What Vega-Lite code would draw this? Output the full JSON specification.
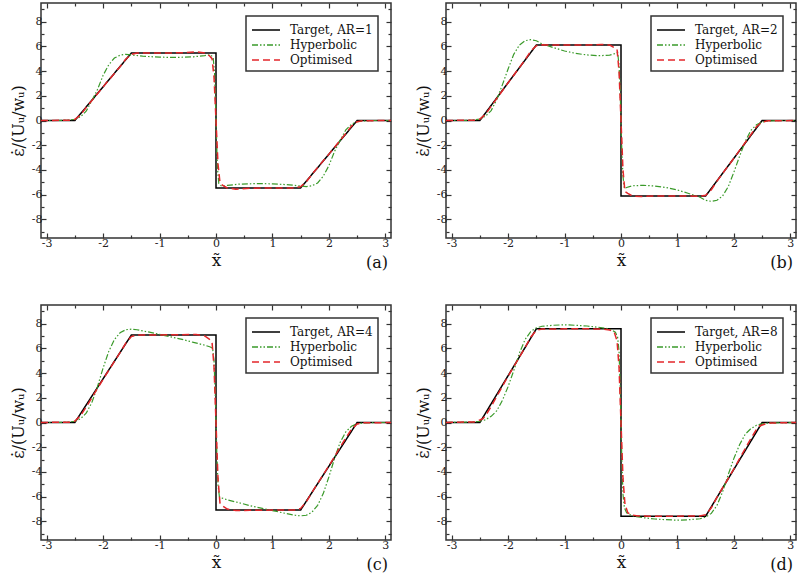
{
"$schema": "https://vega.github.io/schema/vega-lite/v6.json",
"padding": {"left": 9, "top": 1, "right": 0, "bottom": 0},
"columns": 2,
"spacing": {"row": 67, "column": 55},
"bounds": "flush",
"datasets": {
"a": [
{"s":"Target, AR=1","x":-3.1,"y":0},{"s":"Target, AR=1","x":-2.5,"y":0},{"s":"Target, AR=1","x":-1.5,"y":5.45},{"s":"Target, AR=1","x":0,"y":5.45},{"s":"Target, AR=1","x":0,"y":-5.45},{"s":"Target, AR=1","x":1.5,"y":-5.45},{"s":"Target, AR=1","x":2.5,"y":0},{"s":"Target, AR=1","x":3.1,"y":0},
{"s":"Hyperbolic","x":-3.1,"y":0},{"s":"Hyperbolic","x":-2.8,"y":0},{"s":"Hyperbolic","x":-2.6,"y":0.04},{"s":"Hyperbolic","x":-2.5,"y":0.1},{"s":"Hyperbolic","x":-2.4,"y":0.3},{"s":"Hyperbolic","x":-2.3,"y":0.75},{"s":"Hyperbolic","x":-2.2,"y":1.6},{"s":"Hyperbolic","x":-2.1,"y":2.5},{"s":"Hyperbolic","x":-2.0,"y":3.65},{"s":"Hyperbolic","x":-1.9,"y":4.5},{"s":"Hyperbolic","x":-1.8,"y":5.05},{"s":"Hyperbolic","x":-1.7,"y":5.28},{"s":"Hyperbolic","x":-1.6,"y":5.35},{"s":"Hyperbolic","x":-1.5,"y":5.3},{"s":"Hyperbolic","x":-1.3,"y":5.2},{"s":"Hyperbolic","x":-1.0,"y":5.12},{"s":"Hyperbolic","x":-0.7,"y":5.1},{"s":"Hyperbolic","x":-0.4,"y":5.15},{"s":"Hyperbolic","x":-0.2,"y":5.25},{"s":"Hyperbolic","x":-0.1,"y":5.32},{"s":"Hyperbolic","x":-0.05,"y":5.1},{"s":"Hyperbolic","x":-0.025,"y":3.8},{"s":"Hyperbolic","x":0,"y":0},
{"s":"Hyperbolic","x":0.025,"y":-3.8},{"s":"Hyperbolic","x":0.05,"y":-5.1},{"s":"Hyperbolic","x":0.1,"y":-5.32},{"s":"Hyperbolic","x":0.2,"y":-5.25},{"s":"Hyperbolic","x":0.4,"y":-5.15},{"s":"Hyperbolic","x":0.7,"y":-5.1},{"s":"Hyperbolic","x":1.0,"y":-5.12},{"s":"Hyperbolic","x":1.3,"y":-5.2},{"s":"Hyperbolic","x":1.5,"y":-5.3},{"s":"Hyperbolic","x":1.6,"y":-5.35},{"s":"Hyperbolic","x":1.7,"y":-5.28},{"s":"Hyperbolic","x":1.8,"y":-5.05},{"s":"Hyperbolic","x":1.9,"y":-4.5},{"s":"Hyperbolic","x":2.0,"y":-3.65},{"s":"Hyperbolic","x":2.1,"y":-2.5},{"s":"Hyperbolic","x":2.2,"y":-1.6},{"s":"Hyperbolic","x":2.3,"y":-0.75},{"s":"Hyperbolic","x":2.4,"y":-0.3},{"s":"Hyperbolic","x":2.5,"y":-0.1},{"s":"Hyperbolic","x":2.6,"y":-0.04},{"s":"Hyperbolic","x":2.8,"y":0},{"s":"Hyperbolic","x":3.1,"y":0},
{"s":"Optimised","x":-3.1,"y":0},{"s":"Optimised","x":-2.6,"y":0.02},{"s":"Optimised","x":-2.5,"y":0.1},{"s":"Optimised","x":-2.4,"y":0.45},{"s":"Optimised","x":-2.3,"y":1.05},{"s":"Optimised","x":-2.0,"y":2.72},{"s":"Optimised","x":-1.7,"y":4.35},{"s":"Optimised","x":-1.6,"y":4.95},{"s":"Optimised","x":-1.5,"y":5.35},{"s":"Optimised","x":-1.4,"y":5.45},{"s":"Optimised","x":-1.0,"y":5.45},{"s":"Optimised","x":-0.6,"y":5.48},{"s":"Optimised","x":-0.35,"y":5.55},{"s":"Optimised","x":-0.2,"y":5.45},{"s":"Optimised","x":-0.12,"y":5.25},{"s":"Optimised","x":-0.07,"y":5.0},{"s":"Optimised","x":-0.035,"y":3.5},{"s":"Optimised","x":0,"y":0},
{"s":"Optimised","x":0.035,"y":-3.5},{"s":"Optimised","x":0.07,"y":-5.0},{"s":"Optimised","x":0.12,"y":-5.25},{"s":"Optimised","x":0.2,"y":-5.45},{"s":"Optimised","x":0.35,"y":-5.55},{"s":"Optimised","x":0.6,"y":-5.48},{"s":"Optimised","x":1.0,"y":-5.45},{"s":"Optimised","x":1.4,"y":-5.45},{"s":"Optimised","x":1.5,"y":-5.35},{"s":"Optimised","x":1.6,"y":-4.95},{"s":"Optimised","x":1.7,"y":-4.35},{"s":"Optimised","x":2.0,"y":-2.72},{"s":"Optimised","x":2.3,"y":-1.05},{"s":"Optimised","x":2.4,"y":-0.45},{"s":"Optimised","x":2.5,"y":-0.1},{"s":"Optimised","x":2.6,"y":-0.02},{"s":"Optimised","x":3.1,"y":0}
],
"b": [
{"s":"Target, AR=2","x":-3.1,"y":0},{"s":"Target, AR=2","x":-2.5,"y":0},{"s":"Target, AR=2","x":-1.5,"y":6.1},{"s":"Target, AR=2","x":0,"y":6.1},{"s":"Target, AR=2","x":0,"y":-6.1},{"s":"Target, AR=2","x":1.5,"y":-6.1},{"s":"Target, AR=2","x":2.5,"y":0},{"s":"Target, AR=2","x":3.1,"y":0},
{"s":"Hyperbolic","x":-3.1,"y":0},{"s":"Hyperbolic","x":-2.8,"y":0},{"s":"Hyperbolic","x":-2.6,"y":0.05},{"s":"Hyperbolic","x":-2.5,"y":0.12},{"s":"Hyperbolic","x":-2.4,"y":0.35},{"s":"Hyperbolic","x":-2.3,"y":0.8},{"s":"Hyperbolic","x":-2.2,"y":1.7},{"s":"Hyperbolic","x":-2.1,"y":2.9},{"s":"Hyperbolic","x":-2.0,"y":4.17},{"s":"Hyperbolic","x":-1.9,"y":5.35},{"s":"Hyperbolic","x":-1.8,"y":6.1},{"s":"Hyperbolic","x":-1.7,"y":6.45},{"s":"Hyperbolic","x":-1.6,"y":6.54},{"s":"Hyperbolic","x":-1.5,"y":6.45},{"s":"Hyperbolic","x":-1.4,"y":6.2},{"s":"Hyperbolic","x":-1.2,"y":5.9},{"s":"Hyperbolic","x":-1.0,"y":5.62},{"s":"Hyperbolic","x":-0.8,"y":5.42},{"s":"Hyperbolic","x":-0.6,"y":5.3},{"s":"Hyperbolic","x":-0.4,"y":5.24},{"s":"Hyperbolic","x":-0.2,"y":5.28},{"s":"Hyperbolic","x":-0.1,"y":5.42},{"s":"Hyperbolic","x":-0.06,"y":5.5},{"s":"Hyperbolic","x":-0.035,"y":4.5},{"s":"Hyperbolic","x":-0.015,"y":2.5},{"s":"Hyperbolic","x":0,"y":0},
{"s":"Hyperbolic","x":0.015,"y":-2.5},{"s":"Hyperbolic","x":0.035,"y":-4.5},{"s":"Hyperbolic","x":0.06,"y":-5.5},{"s":"Hyperbolic","x":0.1,"y":-5.42},{"s":"Hyperbolic","x":0.2,"y":-5.28},{"s":"Hyperbolic","x":0.4,"y":-5.24},{"s":"Hyperbolic","x":0.6,"y":-5.3},{"s":"Hyperbolic","x":0.8,"y":-5.42},{"s":"Hyperbolic","x":1.0,"y":-5.62},{"s":"Hyperbolic","x":1.2,"y":-5.9},{"s":"Hyperbolic","x":1.4,"y":-6.2},{"s":"Hyperbolic","x":1.5,"y":-6.45},{"s":"Hyperbolic","x":1.6,"y":-6.54},{"s":"Hyperbolic","x":1.7,"y":-6.45},{"s":"Hyperbolic","x":1.8,"y":-6.1},{"s":"Hyperbolic","x":1.9,"y":-5.35},{"s":"Hyperbolic","x":2.0,"y":-4.17},{"s":"Hyperbolic","x":2.1,"y":-2.9},{"s":"Hyperbolic","x":2.2,"y":-1.7},{"s":"Hyperbolic","x":2.3,"y":-0.8},{"s":"Hyperbolic","x":2.4,"y":-0.35},{"s":"Hyperbolic","x":2.5,"y":-0.12},{"s":"Hyperbolic","x":2.6,"y":-0.05},{"s":"Hyperbolic","x":2.8,"y":0},{"s":"Hyperbolic","x":3.1,"y":0},
{"s":"Optimised","x":-3.1,"y":0},{"s":"Optimised","x":-2.6,"y":0.03},{"s":"Optimised","x":-2.5,"y":0.12},{"s":"Optimised","x":-2.4,"y":0.5},{"s":"Optimised","x":-2.3,"y":1.15},{"s":"Optimised","x":-2.0,"y":3.05},{"s":"Optimised","x":-1.7,"y":4.9},{"s":"Optimised","x":-1.6,"y":5.6},{"s":"Optimised","x":-1.5,"y":6.05},{"s":"Optimised","x":-1.4,"y":6.12},{"s":"Optimised","x":-1.0,"y":6.1},{"s":"Optimised","x":-0.6,"y":6.1},{"s":"Optimised","x":-0.35,"y":6.15},{"s":"Optimised","x":-0.2,"y":6.1},{"s":"Optimised","x":-0.12,"y":5.9},{"s":"Optimised","x":-0.07,"y":5.75},{"s":"Optimised","x":-0.035,"y":4.0},{"s":"Optimised","x":0,"y":0},
{"s":"Optimised","x":0.035,"y":-4.0},{"s":"Optimised","x":0.07,"y":-5.75},{"s":"Optimised","x":0.12,"y":-5.9},{"s":"Optimised","x":0.2,"y":-6.1},{"s":"Optimised","x":0.35,"y":-6.15},{"s":"Optimised","x":0.6,"y":-6.1},{"s":"Optimised","x":1.0,"y":-6.1},{"s":"Optimised","x":1.4,"y":-6.12},{"s":"Optimised","x":1.5,"y":-6.05},{"s":"Optimised","x":1.6,"y":-5.6},{"s":"Optimised","x":1.7,"y":-4.9},{"s":"Optimised","x":2.0,"y":-3.05},{"s":"Optimised","x":2.3,"y":-1.15},{"s":"Optimised","x":2.4,"y":-0.5},{"s":"Optimised","x":2.5,"y":-0.12},{"s":"Optimised","x":2.6,"y":-0.03},{"s":"Optimised","x":3.1,"y":0}
],
"c": [
{"s":"Target, AR=4","x":-3.1,"y":0},{"s":"Target, AR=4","x":-2.5,"y":0},{"s":"Target, AR=4","x":-1.5,"y":7.07},{"s":"Target, AR=4","x":0,"y":7.07},{"s":"Target, AR=4","x":0,"y":-7.07},{"s":"Target, AR=4","x":1.5,"y":-7.07},{"s":"Target, AR=4","x":2.5,"y":0},{"s":"Target, AR=4","x":3.1,"y":0},
{"s":"Hyperbolic","x":-3.1,"y":0},{"s":"Hyperbolic","x":-2.8,"y":0},{"s":"Hyperbolic","x":-2.6,"y":0.04},{"s":"Hyperbolic","x":-2.5,"y":0.1},{"s":"Hyperbolic","x":-2.4,"y":0.3},{"s":"Hyperbolic","x":-2.3,"y":0.75},{"s":"Hyperbolic","x":-2.2,"y":1.6},{"s":"Hyperbolic","x":-2.1,"y":2.9},{"s":"Hyperbolic","x":-2.0,"y":4.4},{"s":"Hyperbolic","x":-1.9,"y":5.75},{"s":"Hyperbolic","x":-1.8,"y":6.7},{"s":"Hyperbolic","x":-1.7,"y":7.25},{"s":"Hyperbolic","x":-1.6,"y":7.5},{"s":"Hyperbolic","x":-1.5,"y":7.55},{"s":"Hyperbolic","x":-1.4,"y":7.5},{"s":"Hyperbolic","x":-1.2,"y":7.32},{"s":"Hyperbolic","x":-1.0,"y":7.12},{"s":"Hyperbolic","x":-0.8,"y":6.92},{"s":"Hyperbolic","x":-0.6,"y":6.72},{"s":"Hyperbolic","x":-0.4,"y":6.48},{"s":"Hyperbolic","x":-0.2,"y":6.25},{"s":"Hyperbolic","x":-0.1,"y":6.1},{"s":"Hyperbolic","x":-0.06,"y":6.0},{"s":"Hyperbolic","x":-0.035,"y":5.0},{"s":"Hyperbolic","x":-0.015,"y":2.5},{"s":"Hyperbolic","x":0,"y":0},
{"s":"Hyperbolic","x":0.015,"y":-2.5},{"s":"Hyperbolic","x":0.035,"y":-5.0},{"s":"Hyperbolic","x":0.06,"y":-6.0},{"s":"Hyperbolic","x":0.1,"y":-6.1},{"s":"Hyperbolic","x":0.2,"y":-6.25},{"s":"Hyperbolic","x":0.4,"y":-6.48},{"s":"Hyperbolic","x":0.6,"y":-6.72},{"s":"Hyperbolic","x":0.8,"y":-6.92},{"s":"Hyperbolic","x":1.0,"y":-7.12},{"s":"Hyperbolic","x":1.2,"y":-7.32},{"s":"Hyperbolic","x":1.4,"y":-7.5},{"s":"Hyperbolic","x":1.5,"y":-7.55},{"s":"Hyperbolic","x":1.6,"y":-7.5},{"s":"Hyperbolic","x":1.7,"y":-7.25},{"s":"Hyperbolic","x":1.8,"y":-6.7},{"s":"Hyperbolic","x":1.9,"y":-5.75},{"s":"Hyperbolic","x":2.0,"y":-4.4},{"s":"Hyperbolic","x":2.1,"y":-2.9},{"s":"Hyperbolic","x":2.2,"y":-1.6},{"s":"Hyperbolic","x":2.3,"y":-0.75},{"s":"Hyperbolic","x":2.4,"y":-0.3},{"s":"Hyperbolic","x":2.5,"y":-0.1},{"s":"Hyperbolic","x":2.6,"y":-0.04},{"s":"Hyperbolic","x":2.8,"y":0},{"s":"Hyperbolic","x":3.1,"y":0},
{"s":"Optimised","x":-3.1,"y":0},{"s":"Optimised","x":-2.6,"y":0.03},{"s":"Optimised","x":-2.5,"y":0.12},{"s":"Optimised","x":-2.4,"y":0.55},{"s":"Optimised","x":-2.3,"y":1.25},{"s":"Optimised","x":-2.0,"y":3.5},{"s":"Optimised","x":-1.7,"y":5.65},{"s":"Optimised","x":-1.6,"y":6.4},{"s":"Optimised","x":-1.5,"y":6.95},{"s":"Optimised","x":-1.4,"y":7.08},{"s":"Optimised","x":-1.0,"y":7.08},{"s":"Optimised","x":-0.6,"y":7.1},{"s":"Optimised","x":-0.35,"y":7.12},{"s":"Optimised","x":-0.2,"y":7.0},{"s":"Optimised","x":-0.12,"y":6.75},{"s":"Optimised","x":-0.07,"y":6.5},{"s":"Optimised","x":-0.035,"y":4.5},{"s":"Optimised","x":0,"y":0},
{"s":"Optimised","x":0.035,"y":-4.5},{"s":"Optimised","x":0.07,"y":-6.5},{"s":"Optimised","x":0.12,"y":-6.75},{"s":"Optimised","x":0.2,"y":-7.0},{"s":"Optimised","x":0.35,"y":-7.12},{"s":"Optimised","x":0.6,"y":-7.1},{"s":"Optimised","x":1.0,"y":-7.08},{"s":"Optimised","x":1.4,"y":-7.08},{"s":"Optimised","x":1.5,"y":-6.95},{"s":"Optimised","x":1.6,"y":-6.4},{"s":"Optimised","x":1.7,"y":-5.65},{"s":"Optimised","x":2.0,"y":-3.5},{"s":"Optimised","x":2.3,"y":-1.25},{"s":"Optimised","x":2.4,"y":-0.55},{"s":"Optimised","x":2.5,"y":-0.12},{"s":"Optimised","x":2.6,"y":-0.03},{"s":"Optimised","x":3.1,"y":0}
],
"d": [
{"s":"Target, AR=8","x":-3.1,"y":0},{"s":"Target, AR=8","x":-2.5,"y":0},{"s":"Target, AR=8","x":-1.5,"y":7.57},{"s":"Target, AR=8","x":0,"y":7.57},{"s":"Target, AR=8","x":0,"y":-7.57},{"s":"Target, AR=8","x":1.5,"y":-7.57},{"s":"Target, AR=8","x":2.5,"y":0},{"s":"Target, AR=8","x":3.1,"y":0},
{"s":"Hyperbolic","x":-3.1,"y":0},{"s":"Hyperbolic","x":-2.8,"y":0.02},{"s":"Hyperbolic","x":-2.6,"y":0.05},{"s":"Hyperbolic","x":-2.5,"y":0.1},{"s":"Hyperbolic","x":-2.4,"y":0.22},{"s":"Hyperbolic","x":-2.3,"y":0.5},{"s":"Hyperbolic","x":-2.2,"y":0.95},{"s":"Hyperbolic","x":-2.1,"y":1.8},{"s":"Hyperbolic","x":-2.0,"y":2.9},{"s":"Hyperbolic","x":-1.9,"y":4.2},{"s":"Hyperbolic","x":-1.8,"y":5.6},{"s":"Hyperbolic","x":-1.7,"y":6.7},{"s":"Hyperbolic","x":-1.6,"y":7.35},{"s":"Hyperbolic","x":-1.5,"y":7.65},{"s":"Hyperbolic","x":-1.4,"y":7.78},{"s":"Hyperbolic","x":-1.2,"y":7.86},{"s":"Hyperbolic","x":-1.0,"y":7.9},{"s":"Hyperbolic","x":-0.8,"y":7.86},{"s":"Hyperbolic","x":-0.6,"y":7.8},{"s":"Hyperbolic","x":-0.4,"y":7.7},{"s":"Hyperbolic","x":-0.25,"y":7.6},{"s":"Hyperbolic","x":-0.15,"y":7.45},{"s":"Hyperbolic","x":-0.1,"y":7.3},{"s":"Hyperbolic","x":-0.06,"y":6.9},{"s":"Hyperbolic","x":-0.035,"y":5.8},{"s":"Hyperbolic","x":-0.015,"y":3.0},{"s":"Hyperbolic","x":0,"y":0},
{"s":"Hyperbolic","x":0.015,"y":-3.0},{"s":"Hyperbolic","x":0.035,"y":-5.8},{"s":"Hyperbolic","x":0.06,"y":-6.9},{"s":"Hyperbolic","x":0.1,"y":-7.3},{"s":"Hyperbolic","x":0.15,"y":-7.45},{"s":"Hyperbolic","x":0.25,"y":-7.6},{"s":"Hyperbolic","x":0.4,"y":-7.7},{"s":"Hyperbolic","x":0.6,"y":-7.8},{"s":"Hyperbolic","x":0.8,"y":-7.86},{"s":"Hyperbolic","x":1.0,"y":-7.9},{"s":"Hyperbolic","x":1.2,"y":-7.86},{"s":"Hyperbolic","x":1.4,"y":-7.78},{"s":"Hyperbolic","x":1.5,"y":-7.65},{"s":"Hyperbolic","x":1.6,"y":-7.35},{"s":"Hyperbolic","x":1.7,"y":-6.7},{"s":"Hyperbolic","x":1.8,"y":-5.6},{"s":"Hyperbolic","x":1.9,"y":-4.2},{"s":"Hyperbolic","x":2.0,"y":-2.9},{"s":"Hyperbolic","x":2.1,"y":-1.8},{"s":"Hyperbolic","x":2.2,"y":-0.95},{"s":"Hyperbolic","x":2.3,"y":-0.5},{"s":"Hyperbolic","x":2.4,"y":-0.22},{"s":"Hyperbolic","x":2.5,"y":-0.1},{"s":"Hyperbolic","x":2.6,"y":-0.05},{"s":"Hyperbolic","x":2.8,"y":-0.02},{"s":"Hyperbolic","x":3.1,"y":0},
{"s":"Optimised","x":-3.1,"y":0},{"s":"Optimised","x":-2.6,"y":0.05},{"s":"Optimised","x":-2.5,"y":0.2},{"s":"Optimised","x":-2.45,"y":0.3},{"s":"Optimised","x":-2.4,"y":0.55},{"s":"Optimised","x":-2.3,"y":1.3},{"s":"Optimised","x":-2.0,"y":3.75},{"s":"Optimised","x":-1.7,"y":6.05},{"s":"Optimised","x":-1.6,"y":6.9},{"s":"Optimised","x":-1.5,"y":7.45},{"s":"Optimised","x":-1.4,"y":7.56},{"s":"Optimised","x":-1.0,"y":7.57},{"s":"Optimised","x":-0.5,"y":7.57},{"s":"Optimised","x":-0.3,"y":7.55},{"s":"Optimised","x":-0.2,"y":7.48},{"s":"Optimised","x":-0.12,"y":7.3},{"s":"Optimised","x":-0.07,"y":6.6},{"s":"Optimised","x":-0.035,"y":4.5},{"s":"Optimised","x":0,"y":0},
{"s":"Optimised","x":0.035,"y":-4.5},{"s":"Optimised","x":0.07,"y":-6.6},{"s":"Optimised","x":0.12,"y":-7.3},{"s":"Optimised","x":0.2,"y":-7.48},{"s":"Optimised","x":0.3,"y":-7.55},{"s":"Optimised","x":0.5,"y":-7.57},{"s":"Optimised","x":1.0,"y":-7.57},{"s":"Optimised","x":1.4,"y":-7.56},{"s":"Optimised","x":1.5,"y":-7.45},{"s":"Optimised","x":1.6,"y":-6.9},{"s":"Optimised","x":1.7,"y":-6.05},{"s":"Optimised","x":2.0,"y":-3.75},{"s":"Optimised","x":2.3,"y":-1.3},{"s":"Optimised","x":2.4,"y":-0.55},{"s":"Optimised","x":2.45,"y":-0.3},{"s":"Optimised","x":2.5,"y":-0.2},{"s":"Optimised","x":2.6,"y":-0.05},{"s":"Optimised","x":3.1,"y":0}
]
},
"concat": [
{
"width": 350, "height": 235,
"data": {"name": "a"},
"title": {"text": "(a)", "orient": "bottom", "anchor": "end", "dx": -6, "dy": -17},
"encoding": {
"color": {"field": "s", "type": "nominal", "scale": {"domain": ["Target, AR=1", "Hyperbolic", "Optimised"], "range": ["#000000", "#3a9a2a", "#e3262a"]}, "legend": {"title": null}},
"strokeDash": {"field": "s", "type": "nominal", "scale": {"domain": ["Target, AR=1", "Hyperbolic", "Optimised"], "range": [[1, 0], [6, 2, 1.5, 2, 1.5, 2], [7, 4]]}, "legend": {"title": null}}
},
"layer": [
{"transform": [{"filter": "datum.s != 'Hyperbolic' && datum.s != 'Optimised'"}], "mark": {"type": "line", "strokeWidth": 1.5},
"encoding": {
"x": {"field": "x", "type": "quantitative", "scale": {"domain": [-3.1, 3.1], "nice": false, "zero": false}, "axis": {"orient": "bottom", "values": [-3, -2.5, -2, -1.5, -1, -0.5, 0, 0.5, 1, 1.5, 2, 2.5, 3], "labelExpr": "datum.value % 1 == 0 ? '' + datum.value : ''", "tickSize": {"condition": {"test": "datum.value % 1 == 0", "value": -5}, "value": -3}, "title": "x̃"}},
"y": {"field": "y", "type": "quantitative", "scale": {"domain": [-9.5, 9.5], "nice": false, "zero": false}, "axis": {"orient": "left", "values": [-9, -8, -7, -6, -5, -4, -3, -2, -1, 0, 1, 2, 3, 4, 5, 6, 7, 8, 9], "labelExpr": "datum.value % 2 == 0 ? '' + datum.value : ''", "tickSize": {"condition": {"test": "datum.value % 2 == 0", "value": -5}, "value": -3}, "title": "ε̇/(Uᵤ/wᵤ)"}}
}},
{"transform": [{"filter": "datum.s == 'Hyperbolic'"}], "mark": {"type": "line", "strokeWidth": 1.2},
"encoding": {
"x": {"field": "x", "type": "quantitative", "scale": {"domain": [-3.1, 3.1], "nice": false, "zero": false}, "axis": {"orient": "top", "values": [-3, -2.5, -2, -1.5, -1, -0.5, 0, 0.5, 1, 1.5, 2, 2.5, 3], "labels": false, "tickSize": {"condition": {"test": "datum.value % 1 == 0", "value": -5}, "value": -3}, "title": null}},
"y": {"field": "y", "type": "quantitative", "scale": {"domain": [-9.5, 9.5], "nice": false, "zero": false}, "axis": {"orient": "right", "values": [-9, -8, -7, -6, -5, -4, -3, -2, -1, 0, 1, 2, 3, 4, 5, 6, 7, 8, 9], "labels": false, "tickSize": {"condition": {"test": "datum.value % 2 == 0", "value": -5}, "value": -3}, "title": null}}
}},
{"transform": [{"filter": "datum.s == 'Optimised'"}], "mark": {"type": "line", "strokeWidth": 1.5},
"encoding": {
"x": {"field": "x", "type": "quantitative", "scale": {"domain": [-3.1, 3.1], "nice": false, "zero": false}, "axis": null},
"y": {"field": "y", "type": "quantitative", "scale": {"domain": [-9.5, 9.5], "nice": false, "zero": false}, "axis": null}
}}
],
"resolve": {"axis": {"x": "independent", "y": "independent"}}
},
{
"width": 350, "height": 235,
"data": {"name": "b"},
"title": {"text": "(b)", "orient": "bottom", "anchor": "end", "dx": -6, "dy": -17},
"encoding": {
"color": {"field": "s", "type": "nominal", "scale": {"domain": ["Target, AR=2", "Hyperbolic", "Optimised"], "range": ["#000000", "#3a9a2a", "#e3262a"]}, "legend": {"title": null}},
"strokeDash": {"field": "s", "type": "nominal", "scale": {"domain": ["Target, AR=2", "Hyperbolic", "Optimised"], "range": [[1, 0], [6, 2, 1.5, 2, 1.5, 2], [7, 4]]}, "legend": {"title": null}}
},
"layer": [
{"transform": [{"filter": "datum.s != 'Hyperbolic' && datum.s != 'Optimised'"}], "mark": {"type": "line", "strokeWidth": 1.5},
"encoding": {
"x": {"field": "x", "type": "quantitative", "scale": {"domain": [-3.1, 3.1], "nice": false, "zero": false}, "axis": {"orient": "bottom", "values": [-3, -2.5, -2, -1.5, -1, -0.5, 0, 0.5, 1, 1.5, 2, 2.5, 3], "labelExpr": "datum.value % 1 == 0 ? '' + datum.value : ''", "tickSize": {"condition": {"test": "datum.value % 1 == 0", "value": -5}, "value": -3}, "title": "x̃"}},
"y": {"field": "y", "type": "quantitative", "scale": {"domain": [-9.5, 9.5], "nice": false, "zero": false}, "axis": {"orient": "left", "values": [-9, -8, -7, -6, -5, -4, -3, -2, -1, 0, 1, 2, 3, 4, 5, 6, 7, 8, 9], "labelExpr": "datum.value % 2 == 0 ? '' + datum.value : ''", "tickSize": {"condition": {"test": "datum.value % 2 == 0", "value": -5}, "value": -3}, "title": "ε̇/(Uᵤ/wᵤ)"}}
}},
{"transform": [{"filter": "datum.s == 'Hyperbolic'"}], "mark": {"type": "line", "strokeWidth": 1.2},
"encoding": {
"x": {"field": "x", "type": "quantitative", "scale": {"domain": [-3.1, 3.1], "nice": false, "zero": false}, "axis": {"orient": "top", "values": [-3, -2.5, -2, -1.5, -1, -0.5, 0, 0.5, 1, 1.5, 2, 2.5, 3], "labels": false, "tickSize": {"condition": {"test": "datum.value % 1 == 0", "value": -5}, "value": -3}, "title": null}},
"y": {"field": "y", "type": "quantitative", "scale": {"domain": [-9.5, 9.5], "nice": false, "zero": false}, "axis": {"orient": "right", "values": [-9, -8, -7, -6, -5, -4, -3, -2, -1, 0, 1, 2, 3, 4, 5, 6, 7, 8, 9], "labels": false, "tickSize": {"condition": {"test": "datum.value % 2 == 0", "value": -5}, "value": -3}, "title": null}}
}},
{"transform": [{"filter": "datum.s == 'Optimised'"}], "mark": {"type": "line", "strokeWidth": 1.5},
"encoding": {
"x": {"field": "x", "type": "quantitative", "scale": {"domain": [-3.1, 3.1], "nice": false, "zero": false}, "axis": null},
"y": {"field": "y", "type": "quantitative", "scale": {"domain": [-9.5, 9.5], "nice": false, "zero": false}, "axis": null}
}}
],
"resolve": {"axis": {"x": "independent", "y": "independent"}}
},
{
"width": 350, "height": 235,
"data": {"name": "c"},
"title": {"text": "(c)", "orient": "bottom", "anchor": "end", "dx": -6, "dy": -17},
"encoding": {
"color": {"field": "s", "type": "nominal", "scale": {"domain": ["Target, AR=4", "Hyperbolic", "Optimised"], "range": ["#000000", "#3a9a2a", "#e3262a"]}, "legend": {"title": null}},
"strokeDash": {"field": "s", "type": "nominal", "scale": {"domain": ["Target, AR=4", "Hyperbolic", "Optimised"], "range": [[1, 0], [6, 2, 1.5, 2, 1.5, 2], [7, 4]]}, "legend": {"title": null}}
},
"layer": [
{"transform": [{"filter": "datum.s != 'Hyperbolic' && datum.s != 'Optimised'"}], "mark": {"type": "line", "strokeWidth": 1.5},
"encoding": {
"x": {"field": "x", "type": "quantitative", "scale": {"domain": [-3.1, 3.1], "nice": false, "zero": false}, "axis": {"orient": "bottom", "values": [-3, -2.5, -2, -1.5, -1, -0.5, 0, 0.5, 1, 1.5, 2, 2.5, 3], "labelExpr": "datum.value % 1 == 0 ? '' + datum.value : ''", "tickSize": {"condition": {"test": "datum.value % 1 == 0", "value": -5}, "value": -3}, "title": "x̃"}},
"y": {"field": "y", "type": "quantitative", "scale": {"domain": [-9.5, 9.5], "nice": false, "zero": false}, "axis": {"orient": "left", "values": [-9, -8, -7, -6, -5, -4, -3, -2, -1, 0, 1, 2, 3, 4, 5, 6, 7, 8, 9], "labelExpr": "datum.value % 2 == 0 ? '' + datum.value : ''", "tickSize": {"condition": {"test": "datum.value % 2 == 0", "value": -5}, "value": -3}, "title": "ε̇/(Uᵤ/wᵤ)"}}
}},
{"transform": [{"filter": "datum.s == 'Hyperbolic'"}], "mark": {"type": "line", "strokeWidth": 1.2},
"encoding": {
"x": {"field": "x", "type": "quantitative", "scale": {"domain": [-3.1, 3.1], "nice": false, "zero": false}, "axis": {"orient": "top", "values": [-3, -2.5, -2, -1.5, -1, -0.5, 0, 0.5, 1, 1.5, 2, 2.5, 3], "labels": false, "tickSize": {"condition": {"test": "datum.value % 1 == 0", "value": -5}, "value": -3}, "title": null}},
"y": {"field": "y", "type": "quantitative", "scale": {"domain": [-9.5, 9.5], "nice": false, "zero": false}, "axis": {"orient": "right", "values": [-9, -8, -7, -6, -5, -4, -3, -2, -1, 0, 1, 2, 3, 4, 5, 6, 7, 8, 9], "labels": false, "tickSize": {"condition": {"test": "datum.value % 2 == 0", "value": -5}, "value": -3}, "title": null}}
}},
{"transform": [{"filter": "datum.s == 'Optimised'"}], "mark": {"type": "line", "strokeWidth": 1.5},
"encoding": {
"x": {"field": "x", "type": "quantitative", "scale": {"domain": [-3.1, 3.1], "nice": false, "zero": false}, "axis": null},
"y": {"field": "y", "type": "quantitative", "scale": {"domain": [-9.5, 9.5], "nice": false, "zero": false}, "axis": null}
}}
],
"resolve": {"axis": {"x": "independent", "y": "independent"}}
},
{
"width": 350, "height": 235,
"data": {"name": "d"},
"title": {"text": "(d)", "orient": "bottom", "anchor": "end", "dx": -6, "dy": -17},
"encoding": {
"color": {"field": "s", "type": "nominal", "scale": {"domain": ["Target, AR=8", "Hyperbolic", "Optimised"], "range": ["#000000", "#3a9a2a", "#e3262a"]}, "legend": {"title": null}},
"strokeDash": {"field": "s", "type": "nominal", "scale": {"domain": ["Target, AR=8", "Hyperbolic", "Optimised"], "range": [[1, 0], [6, 2, 1.5, 2, 1.5, 2], [7, 4]]}, "legend": {"title": null}}
},
"layer": [
{"transform": [{"filter": "datum.s != 'Hyperbolic' && datum.s != 'Optimised'"}], "mark": {"type": "line", "strokeWidth": 1.5},
"encoding": {
"x": {"field": "x", "type": "quantitative", "scale": {"domain": [-3.1, 3.1], "nice": false, "zero": false}, "axis": {"orient": "bottom", "values": [-3, -2.5, -2, -1.5, -1, -0.5, 0, 0.5, 1, 1.5, 2, 2.5, 3], "labelExpr": "datum.value % 1 == 0 ? '' + datum.value : ''", "tickSize": {"condition": {"test": "datum.value % 1 == 0", "value": -5}, "value": -3}, "title": "x̃"}},
"y": {"field": "y", "type": "quantitative", "scale": {"domain": [-9.5, 9.5], "nice": false, "zero": false}, "axis": {"orient": "left", "values": [-9, -8, -7, -6, -5, -4, -3, -2, -1, 0, 1, 2, 3, 4, 5, 6, 7, 8, 9], "labelExpr": "datum.value % 2 == 0 ? '' + datum.value : ''", "tickSize": {"condition": {"test": "datum.value % 2 == 0", "value": -5}, "value": -3}, "title": "ε̇/(Uᵤ/wᵤ)"}}
}},
{"transform": [{"filter": "datum.s == 'Hyperbolic'"}], "mark": {"type": "line", "strokeWidth": 1.2},
"encoding": {
"x": {"field": "x", "type": "quantitative", "scale": {"domain": [-3.1, 3.1], "nice": false, "zero": false}, "axis": {"orient": "top", "values": [-3, -2.5, -2, -1.5, -1, -0.5, 0, 0.5, 1, 1.5, 2, 2.5, 3], "labels": false, "tickSize": {"condition": {"test": "datum.value % 1 == 0", "value": -5}, "value": -3}, "title": null}},
"y": {"field": "y", "type": "quantitative", "scale": {"domain": [-9.5, 9.5], "nice": false, "zero": false}, "axis": {"orient": "right", "values": [-9, -8, -7, -6, -5, -4, -3, -2, -1, 0, 1, 2, 3, 4, 5, 6, 7, 8, 9], "labels": false, "tickSize": {"condition": {"test": "datum.value % 2 == 0", "value": -5}, "value": -3}, "title": null}}
}},
{"transform": [{"filter": "datum.s == 'Optimised'"}], "mark": {"type": "line", "strokeWidth": 1.5},
"encoding": {
"x": {"field": "x", "type": "quantitative", "scale": {"domain": [-3.1, 3.1], "nice": false, "zero": false}, "axis": null},
"y": {"field": "y", "type": "quantitative", "scale": {"domain": [-9.5, 9.5], "nice": false, "zero": false}, "axis": null}
}}
],
"resolve": {"axis": {"x": "independent", "y": "independent"}}
}
],
"resolve": {"scale": {"color": "independent", "strokeDash": "independent"}, "legend": {"color": "independent", "strokeDash": "independent"}},
"config": {
"font": "DejaVu Serif",
"view": {"stroke": "#333333", "strokeWidth": 1.5},
"axis": {"domain": false, "grid": false, "labelFont": "DejaVu Serif", "labelFontSize": 11, "labelColor": "#222222", "labelFlush": false, "labelOverlap": false, "labelPadding": 4, "tickColor": "#333333", "tickWidth": 1.2, "titleFont": "DejaVu Serif", "titleFontWeight": "normal", "titleColor": "#111111"},
"axisX": {"titleFontSize": 17, "titlePadding": 2},
"axisY": {"titleFontSize": 16, "titlePadding": 5},
"legend": {"orient": "top-right", "offset": 13, "strokeColor": "#333333", "strokeWidth": 1.5, "fillColor": "#ffffff", "padding": 5, "labelFont": "DejaVu Serif", "labelFontSize": 12, "labelColor": "#111111", "symbolType": "M-1.75,0H1.75", "symbolSize": 256, "symbolStrokeWidth": 1.5, "symbolOffset": 6, "labelOffset": 15, "rowPadding": 0},
"title": {"font": "DejaVu Serif", "fontSize": 16, "fontWeight": "normal", "color": "#111111"}
}
}
